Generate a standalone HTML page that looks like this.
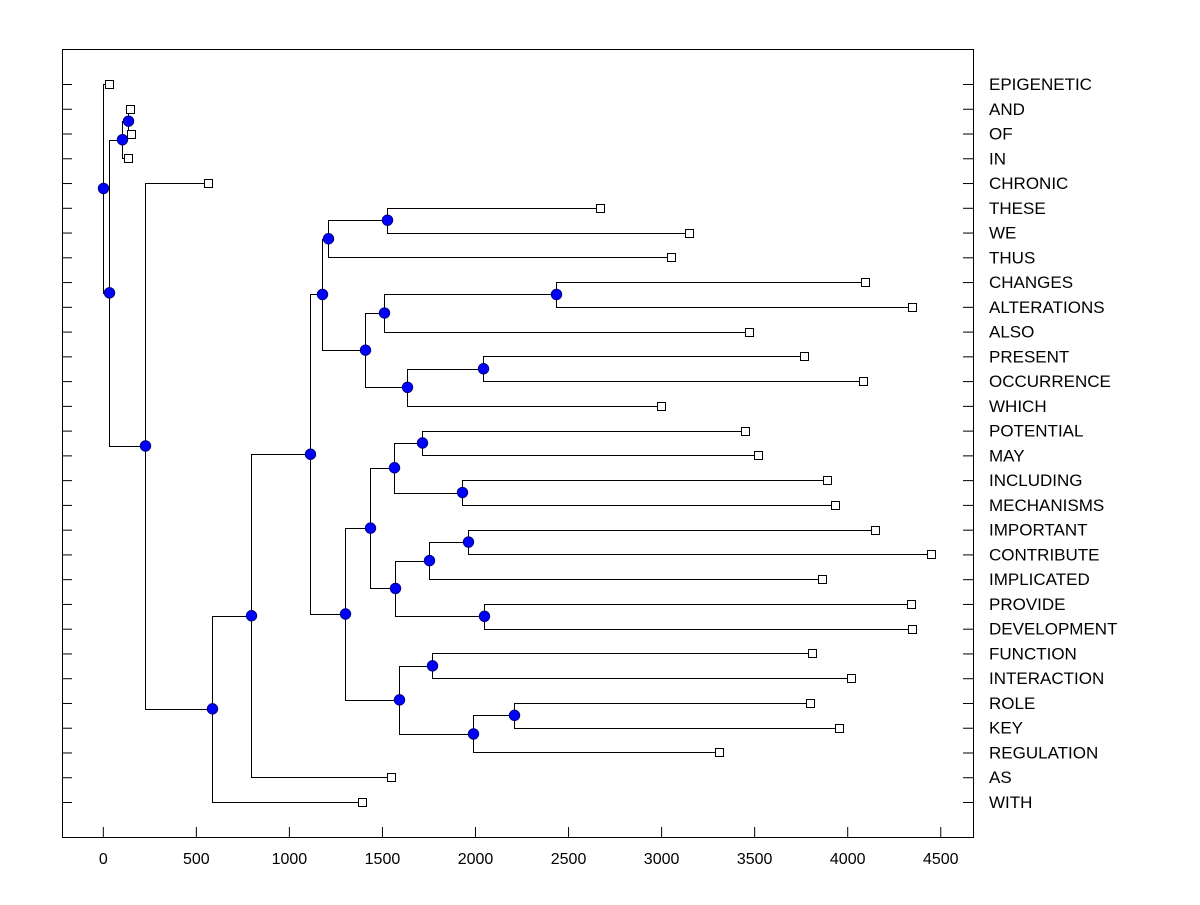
<!DOCTYPE html>
<html><head><meta charset="utf-8"><style>
body{margin:0;background:#fff}
svg text{font-family:"Liberation Sans",Arial,sans-serif;fill:#000}
</style></head><body>
<svg id="chart" width="1200" height="900" xmlns="http://www.w3.org/2000/svg">
<rect x="62.5" y="49.5" width="911" height="788" fill="none" stroke="#000" stroke-width="1"/>
<g id="axes"></g><g id="links"></g><g id="marks"></g>
</svg>
<script>
const labels=["EPIGENETIC","AND","OF","IN","CHRONIC","THESE","WE","THUS","CHANGES","ALTERATIONS","ALSO","PRESENT","OCCURRENCE","WHICH","POTENTIAL","MAY","INCLUDING","MECHANISMS","IMPORTANT","CONTRIBUTE","IMPLICATED","PROVIDE","DEVELOPMENT","FUNCTION","INTERACTION","ROLE","KEY","REGULATION","AS","WITH"];
const leafValues=[30,143,149,133,563,2670,3149,3052,4095,4348,3471,3767,4084,2998,3450,3520,3891,3934,4149,4450,3864,4342,4348,3810,4020,3799,3955,3310,1547,1391];
const mergeLeft=[1,30,5,32,8,34,11,36,35,33,14,16,40,18,43,21,44,42,23,25,49,48,47,39,53,54,4,31,0];
const mergeRight=[2,3,6,7,9,10,12,13,37,38,15,17,41,19,20,22,45,46,24,26,27,50,51,52,28,29,55,56,57];
const mergeHeights=[133,100,1525,1207,2434,1509,2041,1633,1407,1175,1713,1928,1563,1961,1751,2047,1568,1434,1767,2208,1988,1590,1299,1111,793,584,225,30,0];
const xTicks=[0,500,1000,1500,2000,2500,3000,3500,4000,4500];

const NS="http://www.w3.org/2000/svg";
const xs=v=>103.3+v*0.1861;
const ys=i=>84+i*(802-84)/29;
function mk(tag,attrs,parent){const e=document.createElementNS(NS,tag);for(const k in attrs)e.setAttribute(k,attrs[k]);document.getElementById(parent).appendChild(e);return e;}

xTicks.forEach(t=>{
  const l=mk('line',{x1:xs(t),x2:xs(t),y1:837,y2:827,stroke:'#000'},'axes');
  
  
  const tx=mk('text',{x:xs(t),y:864,'text-anchor':'middle','font-size':'16'},'axes');
  tx.textContent=t;
  
  
});
labels.forEach((lab,i)=>{
  const y=ys(i)+0.5;
  const a=mk('line',{x1:62,x2:72,y1:y,y2:y,stroke:'#000'},'axes');
  
  
  const b=mk('line',{x1:963,x2:973,y1:y,y2:y,stroke:'#000'},'axes');
  
  
  const t=mk('text',{x:989,y:ys(i)+6,'font-size':'17'},'axes');
  t.textContent=lab;
  
  
});

const n=labels.length;
const pos={};
for(let i=0;i<n;i++)pos[i]={x:leafValues[i],y:ys(i)};
const dots=[];
for(let k=0;k<mergeHeights.length;k++){
  const a=pos[mergeLeft[k]],b=pos[mergeRight[k]],h=mergeHeights[k];
  const y=(a.y+b.y)/2;
  pos[n+k]={x:h,y:y};
  const X=Math.round(xs(h))+0.5;
  const p=mk('path',{d:`M${Math.round(xs(a.x))+0.5} ${Math.round(a.y)+0.5}H${X}V${Math.round(b.y)+0.5}H${Math.round(xs(b.x))+0.5}`,fill:'none',stroke:'#000','stroke-width':1},'links');
  
  
  dots.push([X,y]);
}
for(let i=0;i<n;i++){
  const r=mk('rect',{x:Math.round(xs(leafValues[i]))-4+0.5,y:Math.round(ys(i))-4+0.5,width:8,height:8,fill:'#fff',stroke:'#000'},'marks');
  
  
}
dots.forEach(([x,y])=>{
  const c=mk('circle',{cx:x,cy:y,r:5.2,fill:'#0000ff',stroke:'#000080','stroke-width':1},'marks');
  
  
});
</script>
</body></html>
